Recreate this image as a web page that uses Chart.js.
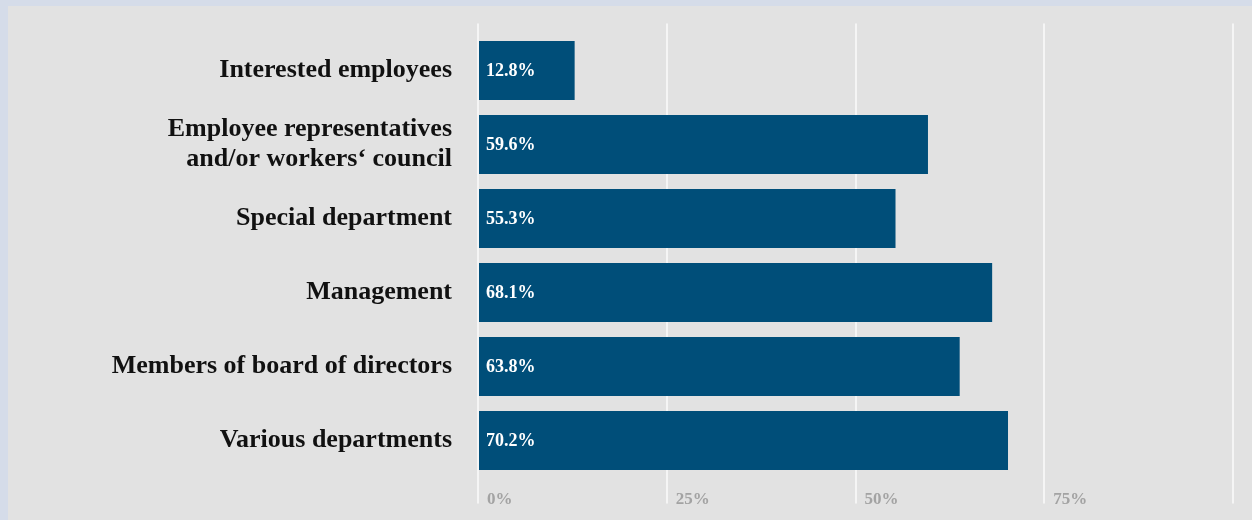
<!DOCTYPE html>
<html>
<head>
<meta charset="utf-8">
<script src="https://cdn.jsdelivr.net/npm/chart.js@4/dist/chart.umd.min.js"></script>
<style>
  html, body { margin: 0; padding: 0; width: 1252px; height: 520px; overflow: hidden; background: #d5dce9; }
  #wrap { position: absolute; left: 8px; top: 6px; width: 1244px; height: 514px; background: #e2e2e2; }
  canvas { display: block; }
</style>
</head>
<body>
<div id="wrap"><canvas id="chart" width="1244" height="514"></canvas></div>
<script>
// Who is involved – share of companies (%)
const categories = [
  'Interested employees',
  ['Employee representatives', 'and/or workers‘ council'],
  'Special department',
  'Management',
  'Members of board of directors',
  'Various departments'
];
const shares = [12.8, 59.6, 55.3, 68.1, 63.8, 70.2];
const tickValues = [0, 25, 50, 75, 100];
const tickLabels = ['0%', '25%', '50%', '75%', ''];

const SERIF = '"Liberation Serif", "DejaVu Serif", serif';
const BAR_BLUE = '#004e79';
const GRID = '#f5f5f5';

// White value text at the start of each bar
const valueLabels = {
  id: 'valueLabels',
  afterDraw(chart) {
    const { ctx } = chart;
    const meta = chart.getDatasetMeta(0);
    ctx.save();
    ctx.font = 'bold 18px ' + SERIF;
    ctx.fillStyle = '#ffffff';
    ctx.textAlign = 'left';
    ctx.textBaseline = 'middle';
    meta.data.forEach((bar, i) => {
      ctx.fillText(shares[i].toFixed(1) + '%', bar.base + 7, bar.y + 1);
    });
    ctx.restore();
  }
};

function noEdgePadding(scale) {
  scale.paddingTop = 0;
  scale.paddingBottom = 0;
  scale.paddingLeft = 0;
  scale.paddingRight = 0;
}

new Chart(document.getElementById('chart'), {
  type: 'bar',
  data: {
    labels: categories,
    datasets: [{
      data: shares,
      backgroundColor: BAR_BLUE,
      borderWidth: 0,
      categoryPercentage: 1,
      barPercentage: 0.8
    }]
  },
  options: {
    indexAxis: 'y',
    responsive: false,
    animation: false,
    devicePixelRatio: 1,
    layout: { padding: { top: 17.5, right: 19, bottom: 0, left: 0 } },
    plugins: {
      legend: { display: false },
      tooltip: { enabled: false }
    },
    scales: {
      x: {
        position: 'bottom',
        min: 0,
        max: 100,
        z: 1,
        afterFit(scale) { scale.height = 42.5; noEdgePadding(scale); },
        afterBuildTicks(scale) { scale.ticks = tickValues.map(v => ({ value: v })); },
        grid: { color: GRID, lineWidth: 2, tickLength: 26, drawTicks: true },
        border: { display: false },
        ticks: {
          align: 'start',
          labelOffset: 9,
          padding: -14,
          color: '#a3a3a3',
          font: { family: SERIF, size: 17, weight: 'bold' },
          callback: (v) => tickLabels[tickValues.indexOf(v)]
        }
      },
      x2: {
        position: 'top',
        min: 0,
        max: 100,
        z: 1,
        afterFit(scale) { scale.height = 10; noEdgePadding(scale); },
        afterBuildTicks(scale) { scale.ticks = tickValues.map(v => ({ value: v })); },
        grid: { color: GRID, lineWidth: 2, tickLength: 10, drawOnChartArea: false },
        border: { display: false },
        ticks: { display: false }
      },
      y: {
        afterFit(scale) { scale.width = 470; noEdgePadding(scale); },
        grid: { display: false, drawTicks: false },
        border: { display: false },
        ticks: {
          padding: 26,
          color: '#111111',
          font: { family: SERIF, size: 26, weight: 'bold', lineHeight: 1.15 }
        }
      }
    }
  },
  plugins: [valueLabels]
});
</script>
</body>
</html>
